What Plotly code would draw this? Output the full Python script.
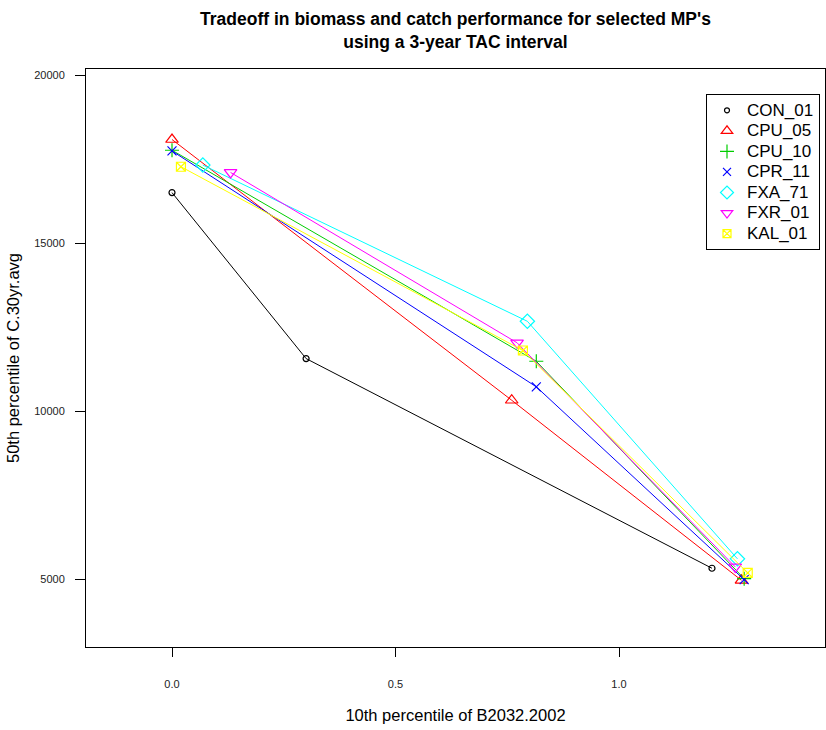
import plotly.graph_objects as go

# ---- data ----
mp_names = ["CON_01", "CPU_05", "CPU_10", "CPR_11", "FXA_71", "FXR_01", "KAL_01"]
b_con01 = [0.000, 0.300, 1.208]
c_con01 = [16500, 11560, 5320]
b_cpu05 = [0.000, 0.760, 1.274]
c_cpu05 = [18080, 10320, 4960]
b_cpu10 = [0.000, 0.815, 1.280]
c_cpu10 = [17760, 11480, 5010]
b_cpr11 = [0.000, 0.815, 1.280]
c_cpr11 = [17740, 10720, 4980]
b_fxa71 = [0.069, 0.795, 1.265]
c_fxa71 = [17320, 12670, 5600]
b_fxr01 = [0.131, 0.772, 1.260]
c_fxr01 = [17100, 12030, 5360]
b_kal01 = [0.020, 0.785, 1.288]
c_kal01 = [17270, 11800, 5180]

x_ticks = [0.0, 0.5, 1.0]
x_tick_labels = ["0.0", "0.5", "1.0"]
y_ticks = [5000, 10000, 15000, 20000]
y_tick_labels = ["5000", "10000", "15000", "20000"]

series_x = [b_con01, b_cpu05, b_cpu10, b_cpr11, b_fxa71, b_fxr01, b_kal01]
series_y = [c_con01, c_cpu05, c_cpu10, c_cpr11, c_fxa71, c_fxr01, c_kal01]

# ---- styles ----
colors = ["#000000", "#FF0000", "#00CD00", "#0000FF", "#00FFFF", "#FF00FF", "#FFFF00"]
symbols = ["circle-open", "triangle-up-open", "cross-thin-open", "x-thin-open",
           "diamond-open", "triangle-down-open", "square-x-open"]
sizes = [6, 11, 10, 9, 11, 11, 9]
leg_sizes = [5, 10, 10, 8, 10, 10, 8]

FONT = "Liberation Sans, Arial, Helvetica, sans-serif"

fig = go.Figure()
for name, xs, ys, col, sym, sz in zip(mp_names, series_x, series_y, colors, symbols, sizes):
    fig.add_trace(go.Scatter(
        x=xs, y=ys, mode="lines+markers", name=name, showlegend=False,
        line=dict(color=col, width=1),
        marker=dict(symbol=sym, size=sz, color=col, line=dict(color=col, width=1.2)),
    ))
# legend-only entries (symbol only, like R's legend with pch)
for name, col, sym, sz in zip(mp_names, colors, symbols, leg_sizes):
    fig.add_trace(go.Scatter(
        x=[None], y=[None], mode="markers",
        name='<span style="font-size:17px">' + name + "</span>", showlegend=True,
        marker=dict(symbol=sym, size=sz, color=col, line=dict(color=col, width=1.2)),
    ))

fig.update_layout(
    width=826, height=730,
    margin=dict(l=86, r=1, t=69, b=83),
    paper_bgcolor="white", plot_bgcolor="white",
    font=dict(family=FONT, color="#000000"),
    title=dict(
        text="<b>Tradeoff in biomass and catch performance for selected MP's<br>using a 3-year TAC interval</b>",
        x=(86 + 825) / 2 / 826, xanchor="center", xref="container",
        y=1 - 25 / 730, yanchor="middle", yref="container",
        font=dict(size=17.5, family=FONT, color="#000000"),
    ),
    legend=dict(
        x=(706 - 86) / 739, y=(647 - 94) / 578, xanchor="left", yanchor="top",
        bordercolor="#000000", borderwidth=1, bgcolor="white",
        font=dict(size=13.5, family=FONT, color="#000000"),
        itemwidth=30, tracegroupgap=0,
    ),
    showlegend=True,
)

fig.update_xaxes(
    range=[(86 - 172) / 447, (825 - 172) / 447],
    tickvals=x_ticks, ticktext=x_tick_labels,
    ticks="outside", ticklen=9, tickcolor="#000000", tickwidth=1,
    ticklabelstandoff=18,
    showline=True, linecolor="#000000", linewidth=1, mirror=True,
    showgrid=False, zeroline=False,
    tickfont=dict(size=11, family=FONT, color="#222222"),
    title=dict(text="10th percentile of B2032.2002", standoff=20,
               font=dict(size=16.5, family=FONT, color="#000000")),
)
fig.update_yaxes(
    range=[5000 - 68 / 33.6 * 1000, 20000 + 6 / 33.6 * 1000],
    tickvals=y_ticks, ticktext=y_tick_labels,
    ticks="outside", ticklen=10, tickcolor="#000000", tickwidth=1,
    ticklabelstandoff=8,
    showline=True, linecolor="#000000", linewidth=1, mirror=True,
    showgrid=False, zeroline=False,
    tickfont=dict(size=11, family=FONT, color="#222222"),
    title=dict(text="50th percentile of C.30yr.avg", standoff=10,
               font=dict(size=16.5, family=FONT, color="#000000")),
)

fig.write_html("out.html")
